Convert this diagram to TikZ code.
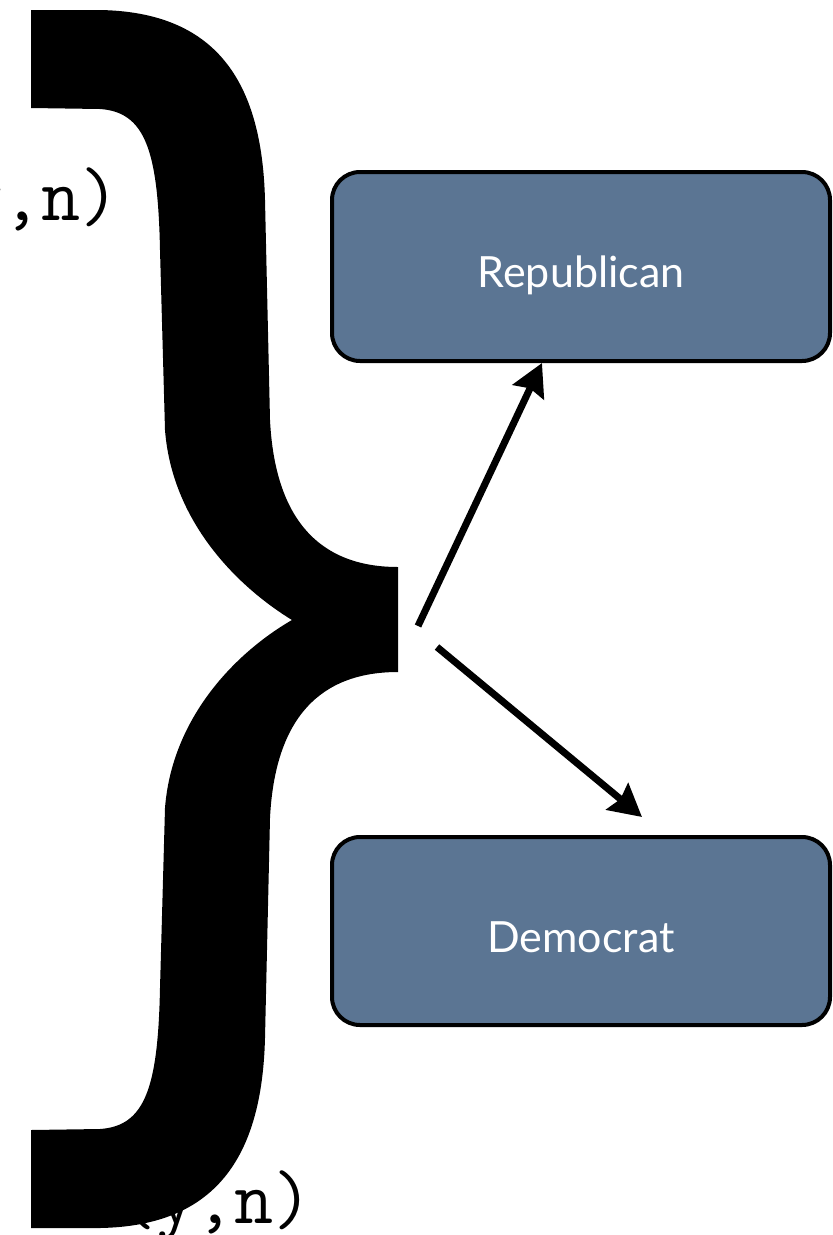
\documentclass[tikz,border=0pt]{standalone}
\usepackage{fontspec}
\setsansfont{Lato}
\usetikzlibrary{arrows.meta}
\definecolor{slate}{RGB}{91,117,147}
\tikzset{
  party/.style={draw=black, line width=4pt, fill=slate, rounded corners=28pt,
    minimum width=498pt, minimum height=189pt, inner sep=0pt,
    text=white, font=\sffamily\fontsize{43}{46}\selectfont,
    text height=42pt, text depth=0pt},
  pair/.style={anchor=base, inner sep=0pt, font=\ttfamily\fontsize{76}{80}\selectfont},
  conn/.style={line width=7pt, -{Stealth[length=32pt,width=34pt,inset=4pt]}},
  bracefill/.style={fill=black}
}
\begin{document}
\begin{tikzpicture}[x=1pt,y=-1pt]
\useasboundingbox (0,0) rectangle (833,1235);
\clip (0,0) rectangle (833,1235);
\node[pair] (ptop) at (22,220) {(y,n)};
\node[pair] (pbot) at (215,1223) {(y,n)};
\path[bracefill] (31,10) -- (100,10) .. controls (215,12) and (262,80) .. (265,200)
  -- (270,420) .. controls (275,520) and (320,567) .. (398,567)
  -- (398,672) .. controls (320,672) and (275,718) .. (270,818)
  -- (265,1038) .. controls (262,1158) and (215,1226) .. (100,1228)
  -- (31,1228) -- (31,1130) -- (100,1129)
  .. controls (145,1126) and (158,1088) .. (160,988)
  -- (165,808) .. controls (172,718) and (235,653) .. (292,620)
  .. controls (235,585) and (172,520) .. (165,430)
  -- (160,250) .. controls (158,150) and (145,112) .. (100,109)
  -- (31,108) -- cycle;
\node[party] (rep) at (581,266.5) {Republican};
\node[party, minimum height=188pt] (dem) at (581,931) {Democrat};
\coordinate (s1) at (418,626);
\coordinate (s2) at (437,647);
\coordinate (t2) at (642,817);
\draw[conn] (s1) -- ([xshift=-39pt]rep.south);
\draw[conn] (s2) -- (t2);
\end{tikzpicture}
\end{document}
